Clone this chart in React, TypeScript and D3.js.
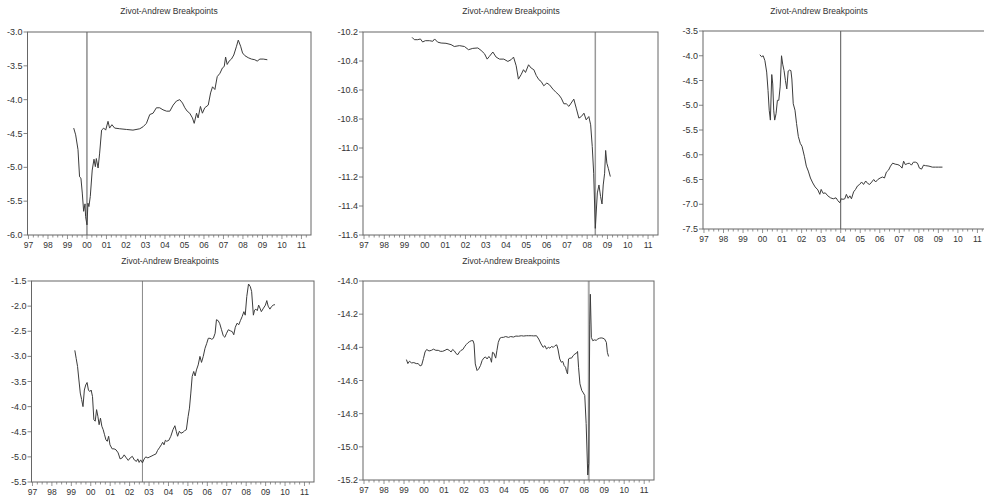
import React from "react";
import * as d3 from "d3";

// ---------- shared axis data ----------
const xYears = d3.range(1997, 2012);
const xLabels = ["97", "98", "99", "00", "01", "02", "03", "04", "05", "06", "07", "08", "09", "10", "11"];
const X_DOMAIN: [number, number] = [1996.95, 2011.49];
const titleText = "Zivot-Andrew Breakpoints";

// ---------- panel 1 ----------
const p1YTicks = [-3.0, -3.5, -4.0, -4.5, -5.0, -5.5, -6.0];
const p1Dates = [1999.32, 1999.42, 1999.54, 1999.62, 1999.69, 1999.76, 1999.83, 1999.90, 1999.93, 2000.00, 2000.05, 2000.10, 2000.17, 2000.27, 2000.36, 2000.43, 2000.48, 2000.57, 2000.65, 2000.75, 2000.86, 2000.96, 2001.08, 2001.16, 2001.28, 2001.42, 2001.68, 2002.02, 2002.36, 2002.71, 2002.88, 2003.05, 2003.22, 2003.39, 2003.56, 2003.73, 2003.90, 2004.08, 2004.25, 2004.42, 2004.59, 2004.76, 2004.90, 2005.02, 2005.14, 2005.27, 2005.41, 2005.50, 2005.62, 2005.70, 2005.82, 2005.92, 2006.04, 2006.22, 2006.34, 2006.44, 2006.56, 2006.68, 2006.82, 2006.95, 2007.04, 2007.11, 2007.19, 2007.29, 2007.41, 2007.53, 2007.67, 2007.76, 2007.88, 2007.98, 2008.10, 2008.27, 2008.44, 2008.61, 2008.73, 2008.87, 2009.04, 2009.25];
const p1Values = [-4.42, -4.52, -4.74, -5.14, -5.16, -5.38, -5.65, -5.54, -5.73, -5.85, -5.53, -5.58, -5.43, -5.04, -4.88, -4.99, -4.87, -5.01, -4.79, -4.45, -4.42, -4.45, -4.32, -4.42, -4.37, -4.42, -4.43, -4.44, -4.45, -4.43, -4.40, -4.35, -4.22, -4.20, -4.12, -4.12, -4.15, -4.17, -4.17, -4.08, -4.02, -4.00, -4.05, -4.12, -4.17, -4.20, -4.27, -4.35, -4.20, -4.27, -4.10, -4.20, -4.12, -4.08, -3.90, -3.81, -3.85, -3.66, -3.61, -3.53, -3.51, -3.37, -3.48, -3.43, -3.40, -3.34, -3.21, -3.12, -3.21, -3.31, -3.35, -3.38, -3.40, -3.41, -3.43, -3.40, -3.40, -3.41];

// ---------- panel 2 ----------
const p2YTicks = [-10.2, -10.4, -10.6, -10.8, -11.0, -11.2, -11.4, -11.6];
const p2Dates = [1999.37, 1999.48, 1999.65, 1999.78, 1999.89, 2000.02, 2000.22, 2000.39, 2000.48, 2000.63, 2000.80, 2001.04, 2001.29, 2001.45, 2001.70, 2001.95, 2002.15, 2002.36, 2002.61, 2002.77, 2002.94, 2003.07, 2003.18, 2003.35, 2003.51, 2003.68, 2003.89, 2004.09, 2004.25, 2004.37, 2004.50, 2004.61, 2004.74, 2004.86, 2004.96, 2005.11, 2005.24, 2005.37, 2005.49, 2005.62, 2005.73, 2005.86, 2006.01, 2006.14, 2006.31, 2006.47, 2006.60, 2006.72, 2006.85, 2006.97, 2007.10, 2007.21, 2007.34, 2007.46, 2007.59, 2007.71, 2007.84, 2007.95, 2008.08, 2008.17, 2008.25, 2008.32, 2008.40, 2008.50, 2008.58, 2008.66, 2008.73, 2008.79, 2008.86, 2008.91, 2008.97, 2009.04, 2009.14];
const p2Values = [-10.237, -10.253, -10.253, -10.248, -10.269, -10.26, -10.26, -10.264, -10.248, -10.27, -10.276, -10.278, -10.287, -10.30, -10.294, -10.30, -10.322, -10.313, -10.31, -10.327, -10.35, -10.387, -10.368, -10.338, -10.373, -10.387, -10.387, -10.403, -10.391, -10.373, -10.433, -10.525, -10.495, -10.46, -10.479, -10.426, -10.449, -10.46, -10.50, -10.529, -10.541, -10.571, -10.552, -10.564, -10.594, -10.617, -10.633, -10.656, -10.695, -10.695, -10.713, -10.69, -10.663, -10.725, -10.794, -10.783, -10.76, -10.806, -10.783, -10.84, -10.99, -11.174, -11.554, -11.31, -11.255, -11.335, -11.386, -11.255, -11.174, -11.017, -11.105, -11.14, -11.197];

// ---------- panel 3 ----------
const p3YTicks = [-3.5, -4.0, -4.5, -5.0, -5.5, -6.0, -6.5, -7.0, -7.5];
const p3Dates = [1999.86, 1999.95, 2000.03, 2000.12, 2000.21, 2000.28, 2000.34, 2000.40, 2000.47, 2000.52, 2000.57, 2000.62, 2000.69, 2000.76, 2000.83, 2000.90, 2000.97, 2001.03, 2001.10, 2001.17, 2001.24, 2001.31, 2001.38, 2001.45, 2001.50, 2001.57, 2001.66, 2001.74, 2001.83, 2001.93, 2002.02, 2002.14, 2002.24, 2002.34, 2002.45, 2002.57, 2002.69, 2002.83, 2002.93, 2003.00, 2003.10, 2003.21, 2003.34, 2003.48, 2003.62, 2003.76, 2003.86, 2003.95, 2004.03, 2004.12, 2004.21, 2004.29, 2004.38, 2004.47, 2004.55, 2004.66, 2004.76, 2004.86, 2004.97, 2005.07, 2005.17, 2005.28, 2005.38, 2005.48, 2005.59, 2005.69, 2005.79, 2005.90, 2006.02, 2006.14, 2006.24, 2006.34, 2006.45, 2006.55, 2006.66, 2006.79, 2006.93, 2007.03, 2007.14, 2007.22, 2007.31, 2007.41, 2007.52, 2007.62, 2007.72, 2007.83, 2007.93, 2008.03, 2008.14, 2008.24, 2008.34, 2008.52, 2008.69, 2008.86, 2009.00, 2009.21];
const p3Values = [-3.98, -4.02, -4.00, -4.10, -4.33, -4.70, -5.10, -5.30, -4.38, -4.57, -5.10, -5.30, -5.17, -4.90, -4.90, -4.63, -4.00, -4.17, -4.30, -4.50, -4.67, -4.31, -4.29, -4.30, -4.47, -4.97, -5.10, -5.37, -5.63, -5.77, -5.83, -6.03, -6.23, -6.33, -6.47, -6.57, -6.65, -6.71, -6.80, -6.70, -6.78, -6.77, -6.83, -6.87, -6.89, -6.87, -6.93, -6.97, -6.89, -6.90, -6.89, -6.80, -6.88, -6.83, -6.89, -6.75, -6.70, -6.63, -6.60, -6.55, -6.60, -6.53, -6.58, -6.60, -6.55, -6.50, -6.55, -6.50, -6.47, -6.45, -6.47, -6.35, -6.31, -6.23, -6.17, -6.19, -6.20, -6.22, -6.27, -6.13, -6.20, -6.18, -6.17, -6.21, -6.15, -6.15, -6.17, -6.27, -6.29, -6.21, -6.22, -6.23, -6.25, -6.25, -6.25, -6.25];

// ---------- panel 4 ----------
const p4YTicks = [-1.5, -2.0, -2.5, -3.0, -3.5, -4.0, -4.5, -5.0, -5.5];
const p4Dates = [1999.18, 1999.25, 1999.32, 1999.39, 1999.46, 1999.53, 1999.60, 1999.67, 1999.74, 1999.81, 1999.88, 1999.95, 2000.02, 2000.09, 2000.16, 2000.23, 2000.30, 2000.37, 2000.43, 2000.50, 2000.57, 2000.64, 2000.71, 2000.78, 2000.85, 2000.92, 2000.99, 2001.10, 2001.20, 2001.30, 2001.41, 2001.51, 2001.62, 2001.72, 2001.83, 2001.93, 2002.03, 2002.14, 2002.24, 2002.35, 2002.42, 2002.49, 2002.57, 2002.66, 2002.75, 2002.83, 2002.94, 2003.04, 2003.15, 2003.25, 2003.36, 2003.44, 2003.53, 2003.63, 2003.70, 2003.77, 2003.84, 2003.91, 2004.02, 2004.12, 2004.23, 2004.33, 2004.40, 2004.47, 2004.56, 2004.64, 2004.75, 2004.83, 2004.92, 2005.01, 2005.08, 2005.15, 2005.22, 2005.30, 2005.37, 2005.44, 2005.53, 2005.62, 2005.70, 2005.79, 2005.88, 2005.97, 2006.05, 2006.14, 2006.23, 2006.31, 2006.40, 2006.47, 2006.56, 2006.64, 2006.73, 2006.82, 2006.90, 2006.99, 2007.08, 2007.18, 2007.29, 2007.36, 2007.44, 2007.53, 2007.62, 2007.70, 2007.79, 2007.88, 2007.95, 2008.03, 2008.12, 2008.21, 2008.28, 2008.37, 2008.43, 2008.50, 2008.57, 2008.64, 2008.71, 2008.78, 2008.89, 2008.99, 2009.06, 2009.13, 2009.22, 2009.30, 2009.39, 2009.48];
const p4Values = [-2.88, -3.04, -3.20, -3.47, -3.73, -3.86, -4.00, -3.67, -3.57, -3.52, -3.67, -3.70, -3.67, -3.80, -4.26, -4.29, -4.06, -4.20, -4.36, -4.23, -4.39, -4.46, -4.56, -4.66, -4.69, -4.59, -4.76, -4.84, -4.84, -4.86, -4.92, -5.04, -5.02, -4.96, -5.02, -5.07, -5.02, -4.99, -5.06, -5.09, -5.04, -5.11, -5.06, -5.12, -5.04, -5.00, -5.02, -5.00, -4.98, -4.96, -4.94, -4.87, -4.82, -4.76, -4.71, -4.76, -4.67, -4.69, -4.67, -4.59, -4.46, -4.38, -4.49, -4.59, -4.49, -4.53, -4.51, -4.48, -4.46, -4.20, -4.03, -3.73, -3.40, -3.30, -3.39, -3.27, -3.17, -3.00, -3.12, -3.00, -2.84, -2.74, -2.64, -2.64, -2.66, -2.64, -2.54, -2.27, -2.29, -2.35, -2.47, -2.59, -2.62, -2.54, -2.47, -2.49, -2.51, -2.57, -2.42, -2.34, -2.37, -2.29, -2.21, -2.11, -2.18, -1.81, -1.56, -1.61, -1.71, -2.18, -2.08, -2.06, -2.09, -1.98, -2.04, -2.11, -2.04, -1.98, -1.89, -2.00, -2.06, -2.01, -1.98, -1.97];

// ---------- panel 5 ----------
const p5YTicks = [-14.0, -14.2, -14.4, -14.6, -14.8, -15.0, -15.2];
const p5Dates = [1999.12, 1999.19, 1999.27, 1999.38, 1999.49, 1999.61, 1999.71, 1999.80, 1999.88, 1999.97, 2000.05, 2000.13, 2000.25, 2000.37, 2000.47, 2000.59, 2000.71, 2000.81, 2000.93, 2001.05, 2001.15, 2001.26, 2001.35, 2001.43, 2001.52, 2001.60, 2001.69, 2001.77, 2001.85, 2001.94, 2002.02, 2002.11, 2002.19, 2002.28, 2002.36, 2002.45, 2002.50, 2002.56, 2002.65, 2002.73, 2002.82, 2002.90, 2002.98, 2003.07, 2003.15, 2003.24, 2003.32, 2003.37, 2003.42, 2003.49, 2003.58, 2003.64, 2003.71, 2003.79, 2003.88, 2003.96, 2004.08, 2004.22, 2004.33, 2004.47, 2004.59, 2004.72, 2004.86, 2004.97, 2005.11, 2005.23, 2005.36, 2005.48, 2005.62, 2005.73, 2005.85, 2005.95, 2006.04, 2006.12, 2006.21, 2006.29, 2006.37, 2006.46, 2006.54, 2006.63, 2006.69, 2006.78, 2006.86, 2006.93, 2007.00, 2007.07, 2007.12, 2007.17, 2007.22, 2007.29, 2007.37, 2007.45, 2007.54, 2007.62, 2007.67, 2007.72, 2007.79, 2007.88, 2007.96, 2008.03, 2008.10, 2008.18, 2008.23, 2008.28, 2008.31, 2008.36, 2008.43, 2008.52, 2008.60, 2008.68, 2008.77, 2008.85, 2008.94, 2009.02, 2009.11, 2009.16, 2009.22];
const p5Values = [-14.474, -14.498, -14.484, -14.494, -14.492, -14.498, -14.498, -14.512, -14.508, -14.468, -14.428, -14.413, -14.422, -14.418, -14.411, -14.418, -14.418, -14.424, -14.424, -14.418, -14.411, -14.418, -14.428, -14.413, -14.422, -14.438, -14.444, -14.428, -14.418, -14.413, -14.397, -14.383, -14.373, -14.365, -14.36, -14.36, -14.38, -14.50, -14.54, -14.53, -14.51, -14.48, -14.465, -14.458, -14.47, -14.455, -14.468, -14.49, -14.43, -14.435, -14.465, -14.42, -14.37, -14.345, -14.34, -14.34, -14.335, -14.34, -14.335, -14.338, -14.332, -14.333, -14.33, -14.332, -14.33, -14.33, -14.33, -14.331, -14.33, -14.35, -14.38, -14.40, -14.39, -14.41, -14.40, -14.405, -14.395, -14.40, -14.39, -14.385, -14.41, -14.47, -14.49, -14.485, -14.51, -14.52, -14.545, -14.56, -14.47, -14.465, -14.465, -14.45, -14.44, -14.435, -14.425, -14.52, -14.62, -14.66, -14.675, -14.69, -14.86, -15.17, -15.10, -14.26, -14.08, -14.34, -14.36, -14.355, -14.358, -14.35, -14.345, -14.343, -14.345, -14.35, -14.37, -14.43, -14.455];

// ---------- breakpoints ----------
const breakDates = [2000.0, 2008.4, 2004.0, 2002.66, 2008.23];

// ---------- layout ----------
const layouts = [
  { l: 27.5, t: 32, r: 311, b: 235, tx: 169, ty: 14, bc: "#555", bw: 1 },
  { l: 363, t: 32, r: 658, b: 235, tx: 511, ty: 14, bc: "#999", bw: 1.5 },
  { l: 703, t: 31, r: 987, b: 229, tx: 819, ty: 14, bc: "#555", bw: 1 },
  { l: 31.5, t: 281, r: 314, b: 482, tx: 170, ty: 264, bc: "#888", bw: 1 },
  { l: 363, t: 281, r: 654, b: 480, tx: 511, ty: 264, bc: "#aaa", bw: 2 },
];

const series = [
  { dates: p1Dates, values: p1Values, yTicks: p1YTicks },
  { dates: p2Dates, values: p2Values, yTicks: p2YTicks },
  { dates: p3Dates, values: p3Values, yTicks: p3YTicks },
  { dates: p4Dates, values: p4Values, yTicks: p4YTicks },
  { dates: p5Dates, values: p5Values, yTicks: p5YTicks },
];

const FONT = "'Liberation Sans', Arial, Helvetica, sans-serif";

function Panel({ idx }: { idx: number }) {
  const L = layouts[idx];
  const S = series[idx];
  const x = d3.scaleLinear().domain(X_DOMAIN).range([L.l, L.r]);
  const yExt = d3.extent(S.yTicks) as [number, number];
  const y = d3.scaleLinear().domain(yExt).range([L.b, L.t]);
  const n = Math.min(S.dates.length, S.values.length);
  const pts: [number, number][] = d3.range(n).map((i) => [S.dates[i], S.values[i]]);
  const line = d3
    .line<[number, number]>()
    .x((d) => x(d[0]))
    .y((d) => y(d[1]));
  const quarters = d3.range(1997, 2011.5, 0.25).filter((q) => q >= X_DOMAIN[0] && q <= X_DOMAIN[1]);
  const bx = x(breakDates[idx]);
  return (
    <g>
      <text x={L.tx} y={L.ty} textAnchor="middle" fontSize={8.5} fill="#333">
        {titleText}
      </text>
      {S.yTicks.map((v) => (
        <g key={"y" + v}>
          <line x1={L.l - 4} x2={L.l} y1={y(v)} y2={y(v)} stroke="#666" strokeWidth={0.8} />
          <text x={L.l - 5} y={y(v) + 3} textAnchor="end" fontSize={9} fill="#333">
            {v.toFixed(1)}
          </text>
        </g>
      ))}
      {quarters.map((q) => {
        const major = Math.abs(q - Math.round(q)) < 1e-6;
        return (
          <line
            key={"q" + q}
            x1={x(q)}
            x2={x(q)}
            y1={L.b}
            y2={L.b + (major ? 4 : 2.5)}
            stroke="#666"
            strokeWidth={0.7}
          />
        );
      })}
      {xYears.map((yr, i) => (
        <text key={"x" + yr} x={x(yr)} y={L.b + 13} textAnchor="middle" fontSize={8.5} fill="#333">
          {xLabels[i]}
        </text>
      ))}
      <line x1={bx} x2={bx} y1={L.t} y2={L.b} stroke={L.bc} strokeWidth={L.bw} />
      <path d={line(pts) || ""} fill="none" stroke="#3c3c3c" strokeWidth={1} />
      <rect x={L.l} y={L.t} width={L.r - L.l} height={L.b - L.t} fill="none" stroke="#666" strokeWidth={1} />
    </g>
  );
}

export default function App() {
  return (
    <svg
      width={984}
      height={497}
      style={{ position: "absolute", left: 0, top: 0, background: "#fff" }}
      fontFamily={FONT}
    >
      <rect x={0} y={0} width={984} height={497} fill="#fff" />
      {layouts.map((_, i) => (
        <Panel key={i} idx={i} />
      ))}
    </svg>
  );
}
